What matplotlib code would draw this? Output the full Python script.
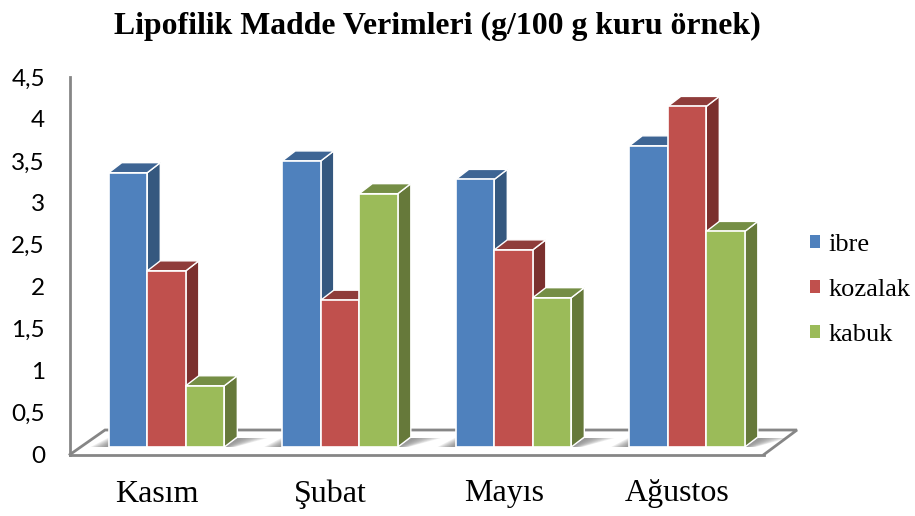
import matplotlib
matplotlib.use('Agg')
import matplotlib.pyplot as plt
from matplotlib.patches import Polygon, Patch
from matplotlib.transforms import Affine2D, IdentityTransform
import numpy as np

months = ['Kasım', 'Şubat', 'Mayıs', 'Ağustos']
ibre = [3.27, 3.41, 3.19, 3.59]
kozalak = [2.10, 1.75, 2.35, 4.06]
kabuk = [0.73, 3.02, 1.78, 2.57]
series_names = ['ibre', 'kozalak', 'kabuk']
yticks = [0, 0.5, 1, 1.5, 2, 2.5, 3, 3.5, 4, 4.5]
ytick_labels = ['0', '0,5', '1', '1,5', '2', '2,5', '3', '3,5', '4', '4,5']

front = ['#4F81BD', '#C0504D', '#9BBB59']
side = ['#35587F', '#7B302E', '#66793A']
top = ['#3E6594', '#8F3C3A', '#758E45']
grey = '#868686'

W, H = 915, 516
fig = plt.figure(figsize=(W / 100, H / 100), dpi=100)
ax = fig.add_axes([70 / W, (H - 454.5) / H, 694 / W, 377.5 / H])
ax.set_xlim(-0.5, 3.5)
ax.set_ylim(0, 4.5)

# bars stand in the middle of the floor, so shift them back a bit (pixels)
base_shift = Affine2D().translate(9.8, 7.5)
bar_trans = ax.transData + base_shift
width = 0.222
dx, dy = 13, 10


def to_px(x, y):
    return np.array(ax.transData.transform((x, y))) + (9.8, 7.5)


def add_poly(points, color, z, edge='white', lw=1.0, alpha=None):
    ax.add_patch(Polygon(points, closed=True, facecolor=color, edgecolor=edge, linewidth=lw,
                         alpha=alpha, transform=IdentityTransform(), zorder=z, clip_on=False))


# floor
x0, y0 = ax.transData.transform((-0.5, 0))
x1, y1 = ax.transData.transform((3.5, 0))
floor = [(x0, y0), (x0 + 35, y0 + 24.5), (x1 + 33, y0 + 24.5), (x1, y0)]
ax.plot([p[0] for p in floor], [p[1] for p in floor], color=grey, lw=2.0,
        transform=IdentityTransform(), clip_on=False, zorder=1, solid_joinstyle='miter')
values = [ibre, kozalak, kabuk]

z = 3
for g in range(len(months)):
    # soft shadow each side of the group on the floor
    left = to_px(g - 1.5 * width, 0)
    right = to_px(g + 1.5 * width, 0)
    for k in range(8):
        a = 0.13
        reach = 30 - 3.5 * k
        add_poly([right + (0, 0), right + (dx, dy - 1), right + (dx + reach, dy - 1),
                  right + (reach * 0.35, 0)], '#6e6e6e', 2, edge='none', lw=0, alpha=a)
        add_poly([left + (0, 0), left + (-18 + 2 * k, 0), left + (0, 9.5 - k)],
                 '#6e6e6e', 2, edge='none', lw=0, alpha=a)
    for s, vals in enumerate(values):
        xc = g + (s - 1) * width
        v = vals[g]
        bl, br = to_px(xc - width / 2, 0), to_px(xc + width / 2, 0)
        tl, tr = to_px(xc - width / 2, v), to_px(xc + width / 2, v)
        d = np.array([dx, dy])
        add_poly([tr, br, br + d, tr + d], side[s], z)
        add_poly([tl, tr, tr + d, tl + d], top[s], z)
        ax.bar(xc, v, width, color=front[s], edgecolor='white', linewidth=1.2,
               transform=bar_trans, zorder=z, clip_on=False)
        z += 1

for name in ['top', 'right']:
    ax.spines[name].set_visible(False)
for name in ['left', 'bottom']:
    ax.spines[name].set_color(grey)
    ax.spines[name].set_linewidth(2.0)
    ax.spines[name].set_zorder(2)

ax.set_xticks(range(len(months)))
ax.set_xticklabels(months, family='Liberation Serif', fontsize=23)
ax.set_yticks(yticks)
ax.set_yticklabels(ytick_labels, family='Lato', fontsize=17.5)
ax.tick_params(axis='both', length=0)
ax.tick_params(axis='x', pad=18)
ax.tick_params(axis='y', pad=18)

handles = [Patch(facecolor=c, edgecolor='none') for c in front]
fig.legend(handles, series_names, loc='center left', bbox_to_anchor=(810 / W, (H - 290) / H),
           frameon=False, prop={'family': 'Liberation Serif', 'size': 19}, handlelength=0.38,
           handleheight=0.38, handletextpad=0.33, labelspacing=0.87, borderpad=0, borderaxespad=0)

fig.text(437.5 / W, (H - 26) / H, 'Lipofilik Madde Verimleri (g/100 g kuru örnek)',
         family='Liberation Serif', fontweight='bold', fontsize=22.9, ha='center', va='center')

fig.savefig('out.png', dpi=100)
